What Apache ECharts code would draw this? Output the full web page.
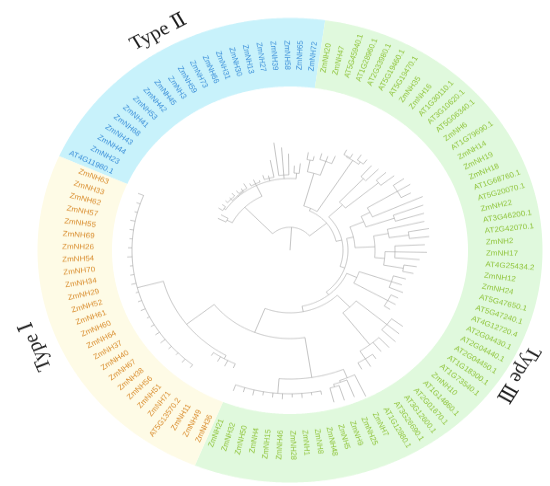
<!DOCTYPE html>
<html>
<head>
<meta charset="utf-8">
<script src="https://cdn.jsdelivr.net/npm/echarts@6/dist/echarts.min.js"></script>
<style>
  html, body { margin: 0; padding: 0; background: #fff; overflow: hidden; }
  /* the reference is squeezed vertically, so draw a round chart and squash it */
  #main { width: 550px; height: 528px; transform: scaleY(0.92); transform-origin: 0 0; }
</style>
</head>
<body>
<div id="main"></div>
<script>
// leaves, clockwise from the Type I / Type II border
const typeII = ['AT4G11980.1', 'ZmNH23', 'ZmNH44', 'ZmNH43', 'ZmNH68', 'ZmNH41', 'ZmNH53', 'ZmNH42', 'ZmNH45', 'ZmNH3',
  'ZmNH59', 'ZmNH73', 'ZmNH66', 'ZmNH31', 'ZmNH30', 'ZmNH13', 'ZmNH27', 'ZmNH39', 'ZmNH58', 'ZmNH65', 'ZmNH72'];
const typeIII = ['ZmNH20', 'ZmNH47', 'AT5G45940.1', 'AT1G28960.1', 'AT2G33980.1', 'AT5G19460.1', 'AT5G19470.1', 'ZmNH35',
  'ZmNH16', 'AT1G30110.1', 'AT3G10620.1', 'AT5G06340.1', 'ZmNH6', 'AT1G79690.1', 'ZmNH14', 'ZmNH19', 'ZmNH18',
  'AT1G68760.1', 'AT5G20070.1', 'ZmNH22', 'AT3G46200.1', 'AT2G42070.1', 'ZmNH2', 'ZmNH17', 'AT4G25434.2', 'ZmNH12',
  'ZmNH24', 'AT5G47650.1', 'AT5G47240.1', 'AT4G12720.4', 'AT2G04430.1', 'AT2G04440.1', 'AT2G04450.1', 'AT1G18300.1',
  'AT1G73540.1', 'ZmNH10', 'AT1G14860.1', 'AT2G01670.1', 'AT3G12600.1', 'AT3G26690.1', 'AT1G12880.1', 'ZmNH7',
  'ZmNH25', 'ZmNH9', 'ZmNH5', 'ZmNH48', 'ZmNH8', 'ZmNH1', 'ZmNH28', 'ZmNH46', 'ZmNH15', 'ZmNH4', 'ZmNH50', 'ZmNH32', 'ZmNH21'];
const typeI = ['ZmNH36', 'ZmNH49', 'ZmNH11', 'AT5G13570.2', 'ZmNH71', 'ZmNH51', 'ZmNH56', 'ZmNH38', 'ZmNH67', 'ZmNH40',
  'ZmNH37', 'ZmNH64', 'ZmNH60', 'ZmNH61', 'ZmNH52', 'ZmNH29', 'ZmNH34', 'ZmNH70', 'ZmNH54', 'ZmNH26', 'ZmNH69',
  'ZmNH55', 'ZmNH57', 'ZmNH62', 'ZmNH33', 'ZmNH63'];
const typeNames = ['Type Ⅱ', 'Type Ⅲ', 'Type Ⅰ'];

// clades (newick, branch lengths)
const cladeII = '((AT4G11980.1:0.09,ZmNH23:0.08):0.06,((ZmNH44:0.05,ZmNH43:0.04):0.02,((ZmNH68:0.03,ZmNH41:0.02,ZmNH53:0.04):0.02,(ZmNH42:0.04,ZmNH45:0.03,ZmNH3:0.06):0.01):0.01,(ZmNH59:0.03,ZmNH73:0.05,ZmNH66:0.02):0.02,(ZmNH31:0.05,ZmNH30:0.03,ZmNH13:0.19):0.03,(ZmNH27:0.36,ZmNH39:0.30,ZmNH58:0.23):0.04,(ZmNH65:0.08,ZmNH72:0.11):0.06):0.13):0.40';
const cladeTop = '(((ZmNH20:0.08,ZmNH47:0.05):0.13,(AT5G45940.1:0.07,AT1G28960.1:0.06,AT2G33980.1:0.09):0.16):0.37,((AT5G19460.1:0.06,AT5G19470.1:0.05):0.01,(ZmNH35:0.07,ZmNH16:0.06):0.03):0.66):0.03';
const cladeB1 = '((AT1G30110.1:0.16,AT3G10620.1:0.18):0.35,(AT5G06340.1:0.13,ZmNH6:0.17):0.43):0.19';
const cladeB2 = '((((AT1G79690.1:0.13,ZmNH14:0.15,ZmNH19:0.11):0.35,ZmNH18:0.55):0.10,(AT1G68760.1:0.32,AT5G20070.1:0.30):0.30):0.15,((ZmNH22:0.38,(AT3G46200.1:0.21,AT2G42070.1:0.20):0.20):0.15,((ZmNH2:0.30,ZmNH17:0.32,AT4G25434.2:0.25):0.10,(ZmNH12:0.13,ZmNH24:0.11):0.20):0.10):0.20):0.07';
const cladeB3 = '((AT5G47650.1:0.13,AT5G47240.1:0.11,AT4G12720.4:0.15):0.34,(AT2G04430.1:0.08,AT2G04440.1:0.09,AT2G04450.1:0.07):0.39):0.11';
const cladeB4 = '((AT1G18300.1:0.14,AT1G73540.1:0.16,ZmNH10:0.19):0.40,(AT1G14860.1:0.15,AT2G01670.1:0.13,(AT3G12600.1:0.06,AT3G26690.1:0.10,AT1G12880.1:0.08):0.10):0.44):0.18';
const cladeZb = '((ZmNH7:0.26,(ZmNH25:0.20,(ZmNH9:0.17,ZmNH5:0.16):0.03):0.02):0.10,(ZmNH48:0.04,ZmNH8:0.03,ZmNH1:0.05,ZmNH28:0.04,ZmNH46:0.06,ZmNH15:0.05,ZmNH4:0.04,ZmNH50:0.06,ZmNH32:0.05,ZmNH21:0.07):0.16):0.44';
const cladeI = '((ZmNH36:0.05,ZmNH49:0.07,ZmNH11:0.06,AT5G13570.2:0.04):0.04,(ZmNH71:0.04,ZmNH51:0.05,ZmNH56:0.03,ZmNH38:0.04,ZmNH67:0.06,ZmNH40:0.05,ZmNH37:0.04,ZmNH64:0.03,ZmNH60:0.05,ZmNH61:0.04,ZmNH52:0.03,ZmNH29:0.05,ZmNH34:0.04,ZmNH70:0.03,ZmNH54:0.05,ZmNH26:0.04,ZmNH69:0.03,ZmNH55:0.04,ZmNH57:0.05,ZmNH62:0.03,ZmNH33:0.04,ZmNH63:0.06):0.27):0.35';

const cladeB5 = '(' + cladeZb + ',' + cladeI + '):0.28';
const cladeY4 = '(' + cladeB4 + ',' + cladeB5 + '):0.06';
const cladeY3 = '(' + cladeB3 + ',' + cladeY4 + '):0.04';
const cladeY2 = '(' + cladeB2 + ',' + cladeY3 + '):0.05';
const cladeY = '(' + cladeB1 + ',' + cladeY2 + '):0.06';
const cladeX = '(' + cladeTop + ',' + cladeY + '):0.22';
const treeNewick = '(' + cladeII + ',' + cladeX + '):0.25;';

const leafOrder = typeII.concat(typeIII, typeI);
const groupOf = {};
typeII.forEach(n => groupOf[n] = 0);
typeIII.forEach(n => groupOf[n] = 1);
typeI.forEach(n => groupOf[n] = 2);

const bgColors = ['#c8f2fb', '#e0f9dd', '#fefbe6'];
const textColors = ['#3b8fd9', '#8fc43a', '#d98c2c'];

function parseNewick(str) {
  let i = 0;
  function node() {
    const n = { children: [], name: '', len: 0 };
    if (str[i] === '(') {
      i++;
      n.children.push(node());
      while (str[i] === ',') { i++; n.children.push(node()); }
      i++;
    }
    let name = '';
    while (i < str.length && ':,);'.indexOf(str[i]) < 0) name += str[i++];
    n.name = name;
    if (str[i] === ':') {
      i++;
      let num = '';
      while (i < str.length && ',);'.indexOf(str[i]) < 0) num += str[i++];
      n.len = parseFloat(num);
    }
    return n;
  }
  return node();
}

const tree = parseNewick(treeNewick.replace(/\s/g, ''));

const edges = [];  // [parent depth, depth, angle]
const arcs = [];   // [depth, from angle, to angle]
function layout(n, base) {
  n.depth = base + n.len;
  if (!n.children.length) {
    n.angle = leafOrder.indexOf(n.name) + 0.5;
  } else {
    n.children.forEach(c => layout(c, n.depth));
    const angs = n.children.map(c => c.angle);
    const lo = Math.min.apply(null, angs), hi = Math.max.apply(null, angs);
    n.angle = (lo + hi) / 2;
    arcs.push([n.depth, lo, hi]);
  }
  edges.push([base, n.depth, n.angle]);
}
layout(tree, 0);

const RING_IN = 1.78, RING_OUT = 2.525, LABEL_R = 1.96;
const ringData = [
  [RING_IN, 0, typeII.length, 0],
  [RING_IN, typeII.length, typeII.length + typeIII.length, 1],
  [RING_IN, typeII.length + typeIII.length, leafOrder.length, 2]
];
const labelData = leafOrder.map((n, i) => [LABEL_R, i + 0.5, groupOf[n]]);
const titleData = [[2.71, 10.5, 0], [2.65, 52.9, 1], [2.75, 88.9, 2]];

function arcPoints(api, r, a0, a1) {
  const pts = [];
  const steps = Math.max(2, Math.ceil((a1 - a0) / 0.1));
  for (let k = 0; k <= steps; k++) pts.push(api.coord([r, a0 + (a1 - a0) * k / steps]));
  return pts;
}

const chart = echarts.init(document.getElementById('main'));
chart.setOption({
  animation: false,
  polar: { center: [290, 272], radius: 252.5 },
  angleAxis: { type: 'value', min: 0, max: leafOrder.length, startAngle: 156.1, clockwise: true, show: false },
  radiusAxis: { type: 'value', min: 0, max: RING_OUT, show: false },
  series: [
    {
      type: 'custom', coordinateSystem: 'polar', silent: true, data: ringData,
      renderItem: (params, api) => {
        const outer = arcPoints(api, RING_OUT, api.value(1), api.value(2));
        const inner = arcPoints(api, api.value(0), api.value(1), api.value(2)).reverse();
        return { type: 'polygon', shape: { points: outer.concat(inner) }, style: { fill: bgColors[api.value(3)] } };
      }
    },
    {
      type: 'custom', coordinateSystem: 'polar', silent: true, data: arcs,
      renderItem: (params, api) => ({
        type: 'polyline',
        shape: { points: arcPoints(api, api.value(0), api.value(1), api.value(2)) },
        style: { stroke: '#9c9c9c', lineWidth: 0.6, fill: null }
      })
    },
    {
      type: 'custom', coordinateSystem: 'polar', silent: true, data: edges,
      renderItem: (params, api) => {
        const p0 = api.coord([api.value(0), api.value(2)]);
        const p1 = api.coord([api.value(1), api.value(2)]);
        return {
          type: 'line', shape: { x1: p0[0], y1: p0[1], x2: p1[0], y2: p1[1] },
          style: { stroke: '#9c9c9c', lineWidth: 0.6 }
        };
      }
    },
    {
      type: 'custom', coordinateSystem: 'polar', silent: true, data: labelData,
      renderItem: (params, api) => {
        const a = api.value(1);
        const c = api.coord([0, a]);
        const p = api.coord([api.value(0), a]);
        const phi = Math.atan2(p[1] - c[1], p[0] - c[0]);
        const right = Math.cos(phi) >= 0;
        return {
          type: 'text', x: p[0], y: p[1], rotation: right ? -phi : Math.PI - phi,
          style: {
            text: leafOrder[params.dataIndex], fill: textColors[api.value(2)],
            fontSize: 8, fontFamily: '"Liberation Sans", Arial, sans-serif',
            align: right ? 'left' : 'right', verticalAlign: 'middle'
          }
        };
      }
    },
    {
      type: 'custom', coordinateSystem: 'polar', silent: true, data: titleData,
      renderItem: (params, api) => {
        const a = api.value(1);
        const c = api.coord([0, a]);
        const p = api.coord([api.value(0), a]);
        const phi = Math.atan2(p[1] - c[1], p[0] - c[0]);
        return {
          type: 'text', x: p[0], y: p[1], rotation: -(phi + Math.PI / 2),
          style: {
            text: typeNames[api.value(2)], fill: '#1a1a1a',
            fontSize: 21, fontFamily: '"Liberation Serif", "DejaVu Serif", serif',
            align: 'center', verticalAlign: 'middle'
          }
        };
      }
    }
  ]
});
</script>
</body>
</html>
